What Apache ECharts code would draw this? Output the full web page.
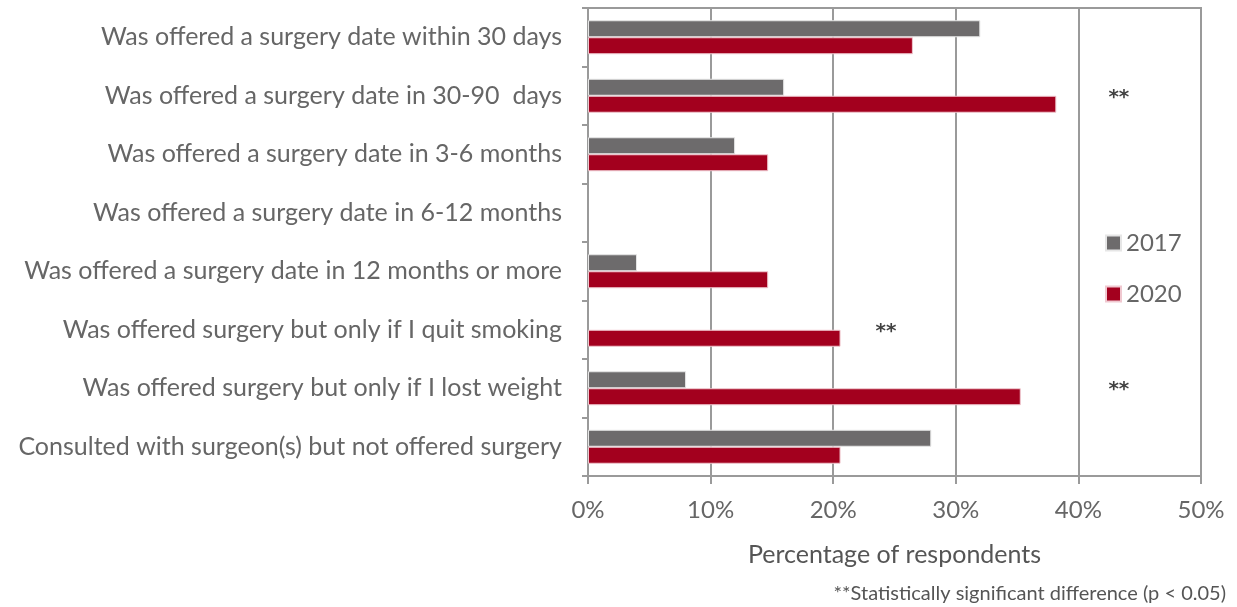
<!DOCTYPE html>
<html>
<head>
<meta charset="utf-8">
<script src="https://cdn.jsdelivr.net/npm/echarts@6/dist/echarts.min.js"></script>
<style>
  html, body { margin: 0; padding: 0; background: #fff; }
  #chart { width: 1237px; height: 607px; }
</style>
</head>
<body>
<div id="chart"></div>
<script>
  var categories = [
    'Was offered a surgery date within 30 days',
    'Was offered a surgery date in 30-90  days',
    'Was offered a surgery date in 3-6 months',
    'Was offered a surgery date in 6-12 months',
    'Was offered a surgery date in 12 months or more',
    'Was offered surgery but only if I quit smoking',
    'Was offered surgery but only if I lost weight',
    'Consulted with surgeon(s) but not offered surgery'
  ];
  var values2017 = [32.0, 16.0, 12.0, null, 4.0, null, 8.0, 28.0];
  var values2020 = [26.5, 38.2, 14.7, null, 14.7, 20.6, 35.3, 20.6];
  // significance markers: [x position (%), category]
  var sigMarks = [
    [43.3, categories[1]],
    [24.3, categories[5]],
    [43.3, categories[6]]
  ];
  var xTicks = [0, 10, 20, 30, 40, 50];

  var font = 'Lato';
  var gray = '#666666';
  var lineColor = '#9a9a9a';

  var chart = echarts.init(document.getElementById('chart'));
  chart.setOption({
    animation: false,
    textStyle: { fontFamily: font },
    grid: {
      left: 588, right: 36, top: 8, bottom: 131,
      show: true, borderColor: lineColor, borderWidth: 2
    },
    legend: {
      data: ['2017', '2020'],
      orient: 'vertical',
      left: 1100, top: 226,
      itemWidth: 15, itemHeight: 15,
      itemGap: 27,
      icon: 'rect',
      textStyle: { fontFamily: font, fontSize: 24, color: gray }
    },
    xAxis: {
      type: 'value',
      min: xTicks[0], max: xTicks[xTicks.length - 1], interval: 10,
      name: 'Percentage of respondents',
      nameLocation: 'middle',
      nameGap: 66,
      nameTextStyle: { fontFamily: font, fontSize: 25, color: '#555555' },
      axisLine: { show: true, lineStyle: { color: lineColor, width: 2 } },
      axisTick: { show: true, length: 8, lineStyle: { color: lineColor, width: 2 } },
      axisLabel: { margin: 22, fontSize: 24, color: gray, formatter: '{value}%' },
      splitLine: { show: true, lineStyle: { color: lineColor, width: 2 } }
    },
    yAxis: {
      type: 'category',
      data: categories,
      inverse: true,
      axisLine: { show: true, lineStyle: { color: lineColor, width: 2 } },
      axisTick: { show: true, length: 6, lineStyle: { color: lineColor, width: 2 } },
      axisLabel: { margin: 26, fontSize: 25, color: gray }
    },
    graphic: [{
      type: 'text',
      right: 11, top: 584,
      style: {
        text: '**Statistically significant difference (p < 0.05)',
        font: '20px ' + font,
        fill: '#555555'
      }
    }],
    series: [
      {
        name: '2017', type: 'bar', data: values2017,
        barWidth: 17, barGap: '0%',
        itemStyle: { color: '#6d6b6c', borderColor: '#e6e6e6', borderWidth: 1 }
      },
      {
        name: '2020', type: 'bar', data: values2020,
        barWidth: 17, barGap: '0%',
        itemStyle: { color: '#a3001e', borderColor: '#f0c8d0', borderWidth: 1 }
      },
      {
        name: 'sig', type: 'scatter', data: sigMarks,
        symbolSize: 0, silent: true,
        label: {
          show: true, position: 'inside', formatter: '**',
          fontSize: 20, fontWeight: 'bold', color: '#111', fontFamily: 'DejaVu Sans', offset: [0, 2]
        }
      }
    ]
  });
</script>
</body>
</html>
